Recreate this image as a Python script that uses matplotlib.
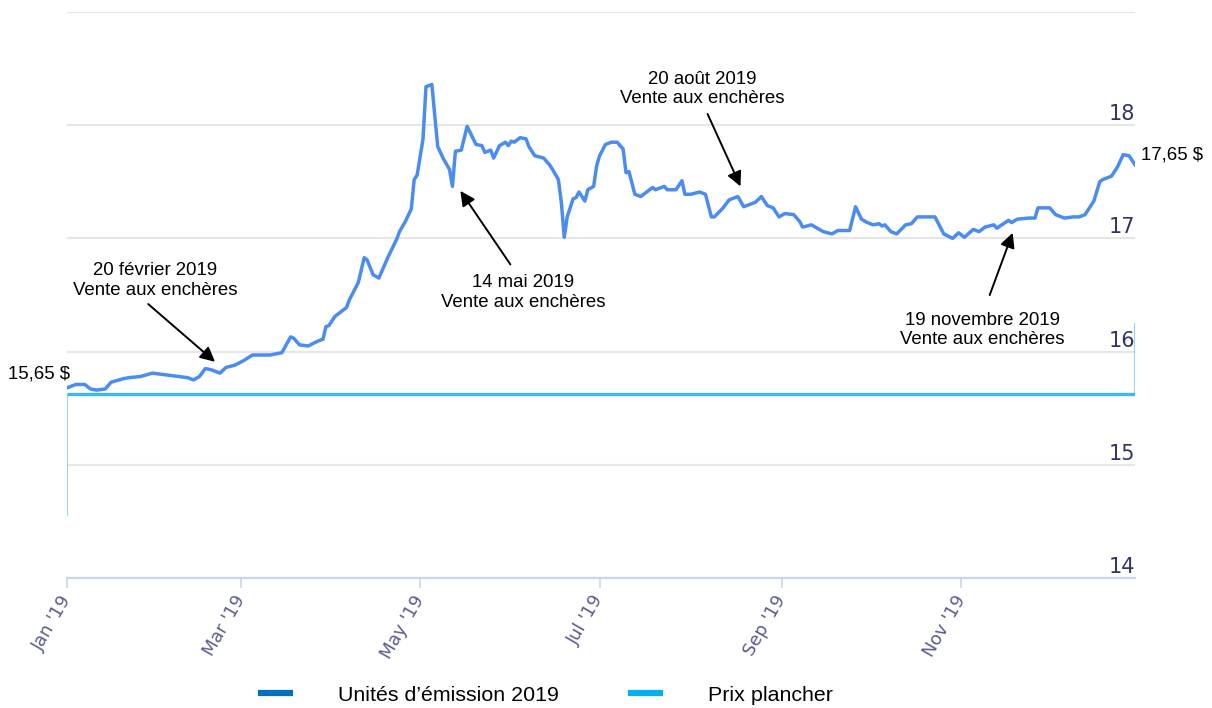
import matplotlib
matplotlib.use("Agg")
import matplotlib.pyplot as plt
import matplotlib.dates as mdates
from matplotlib.lines import Line2D
import pandas as pd

plt.rcParams["font.family"] = ["Liberation Sans", "DejaVu Sans"]

START = pd.Timestamp("2019-01-01")

# Unités d'émission 2019 : jour de l'année (0 = 1er janvier) et prix ($)
price_days = [
    0, 3, 6, 8, 10, 13, 15, 19, 21, 25, 29, 32, 35, 38, 41, 43, 45, 47, 49, 52,
    54, 57, 60, 63, 69, 73, 76, 77, 79, 82, 85, 87, 88, 89, 91, 95, 96, 99, 101, 102,
    104, 106, 109, 112, 113, 115, 117, 118, 119, 121, 122, 124, 126, 128, 130, 131, 132, 134, 136, 139,
    141, 142, 144, 145, 147, 149, 150, 151, 152, 154, 156, 157, 159, 162, 164, 165, 167, 168, 169, 170,
    172, 173, 174, 176, 177, 179, 180, 181, 183, 185, 187, 189, 190, 191, 193, 195, 197, 199, 200, 203,
    204, 207, 209, 210, 212, 215, 217, 219, 220, 223, 225, 228, 230, 232, 234, 236, 238, 240, 242, 244,
    247, 249, 250, 253, 255, 257, 260, 262, 266, 268, 270, 272, 274, 276, 277, 278, 280, 282, 285, 287,
    289, 295, 298, 301, 303, 305, 308, 310, 312, 315, 316, 320, 321, 323, 327, 329, 330, 334, 336, 339,
    342, 344, 346, 349, 351, 352, 355, 357, 359, 361, 363,
]
price_values = [
    15.68, 15.71, 15.71, 15.67, 15.66, 15.67, 15.73, 15.76, 15.77, 15.78, 15.81, 15.80, 15.79, 15.78, 15.77, 15.75, 15.78, 15.85, 15.84, 15.81,
    15.86, 15.88, 15.92, 15.97, 15.97, 15.99, 16.13, 16.12, 16.06, 16.05, 16.09, 16.11, 16.22, 16.23, 16.31, 16.39, 16.46, 16.61, 16.83, 16.81,
    16.68, 16.65, 16.83, 16.99, 17.06, 17.15, 17.26, 17.52, 17.56, 17.88, 18.34, 18.36, 17.81, 17.70, 17.61, 17.46, 17.77, 17.78, 17.99, 17.83,
    17.82, 17.76, 17.78, 17.71, 17.82, 17.85, 17.82, 17.86, 17.85, 17.89, 17.88, 17.81, 17.73, 17.71, 17.65, 17.61, 17.52, 17.32, 17.01, 17.19,
    17.35, 17.36, 17.41, 17.33, 17.43, 17.46, 17.64, 17.73, 17.83, 17.85, 17.85, 17.79, 17.58, 17.59, 17.39, 17.37, 17.41, 17.45, 17.43, 17.46,
    17.43, 17.43, 17.51, 17.39, 17.39, 17.41, 17.39, 17.19, 17.19, 17.27, 17.34, 17.37, 17.28, 17.30, 17.32, 17.37, 17.29, 17.27, 17.19, 17.22,
    17.21, 17.15, 17.10, 17.12, 17.09, 17.06, 17.04, 17.07, 17.07, 17.28, 17.17, 17.14, 17.12, 17.13, 17.11, 17.12, 17.06, 17.04, 17.12, 17.13,
    17.19, 17.19, 17.04, 17.00, 17.05, 17.01, 17.08, 17.06, 17.10, 17.12, 17.09, 17.16, 17.14, 17.17, 17.18, 17.18, 17.27, 17.27, 17.21, 17.18,
    17.19, 17.19, 17.21, 17.33, 17.50, 17.52, 17.55, 17.63, 17.74, 17.73, 17.65,
]

# Prix plancher
floor_days = [0, 0, 363, 363]
floor_values = [14.55, 15.63, 15.63, 16.25]

y_ticks = [14, 15, 16, 17, 18]
x_ticks = ["2019-01-01", "2019-03-01", "2019-05-01", "2019-07-01", "2019-09-01", "2019-11-01"]

# Ventes aux enchères : texte, flèche (jour, valeur)
auction_labels = [
    "20 février 2019\nVente aux enchères",
    "14 mai 2019\nVente aux enchères",
    "20 août 2019\nVente aux enchères",
    "19 novembre 2019\nVente aux enchères",
]
label_pos = [(30, 16.63), (155, 16.52), (216, 18.32), (311, 16.19)]
arrow_tail = [(27.6, 16.42), (150.7, 16.77), (217.7, 18.10), (313.6, 16.50)]
arrow_tip = [(50.3, 15.91), (133.7, 17.42), (228.9, 17.46), (321.4, 17.05)]

first_label = "15,65 $"
last_label = "17,65 $"

LINE_COLOR = "#4a8cf0"
FLOOR_COLOR = "#3db8ec"
GRID_COLOR = "#e6e6e6"
AXIS_COLOR = "#ccd6eb"
TICK_TEXT = "#33336b"
FS = 13.4


def day(d):
    return START + pd.Timedelta(days=d)


fig = plt.figure(figsize=(12.12, 7.08), dpi=100)
ax = fig.add_axes([0.0553, 0.1836, 0.8812, 0.7994])

dates = [day(d) for d in price_days]
fdates = [day(d) for d in floor_days]

# floor price: faint spikes at both ends, solid horizontal part
ax.plot(fdates[:2], floor_values[:2], color=FLOOR_COLOR, lw=1.4, alpha=0.6,
        solid_capstyle="butt")
ax.plot(fdates[2:], floor_values[2:], color=FLOOR_COLOR, lw=1.4, alpha=0.6,
        solid_capstyle="butt")
ax.plot(fdates[1:3], floor_values[1:3], color=FLOOR_COLOR, lw=2.4,
        solid_capstyle="butt", zorder=3)

ax.plot(dates, price_values, color=LINE_COLOR, lw=2.5, zorder=4,
        solid_joinstyle="round")

ax.set_xlim(day(0), day(363))
ax.set_ylim(14, 19)
ax.set_yticks(y_ticks + [19])
ax.tick_params(axis="y", length=0, labelleft=False)
ax.grid(axis="y", color=GRID_COLOR, lw=1.5)
ax.set_axisbelow(True)

for s in ["top", "right", "left"]:
    ax.spines[s].set_visible(False)
ax.spines["bottom"].set_color(AXIS_COLOR)
ax.spines["bottom"].set_linewidth(1.6)
ax.spines["bottom"].set_zorder(5)

ax.set_xticks([pd.Timestamp(t) for t in x_ticks])
ax.xaxis.set_major_formatter(mdates.DateFormatter("%b '%y"))
ax.tick_params(axis="x", length=7.5, width=1.2, color=AXIS_COLOR,
               labelsize=12.8, labelcolor="#5c5c8e", pad=6)
for lbl in ax.get_xticklabels():
    lbl.set_rotation(60)
    lbl.set_rotation_mode("anchor")
    lbl.set_ha("right")
    lbl.set_va("center")
    lbl.set_family("DejaVu Sans")

ytrans = ax.get_yaxis_transform()
for v in y_ticks:
    ax.text(1.0, v + 0.045, str(v), transform=ytrans, ha="right", va="baseline",
            fontsize=15, color=TICK_TEXT, family="DejaVu Sans")

for text, pos, tail, tip in zip(auction_labels, label_pos, arrow_tail, arrow_tip):
    ax.text(day(pos[0]), pos[1], text, ha="center", va="center", fontsize=FS,
            linespacing=1.2, zorder=6)
    ax.annotate("", xy=(day(tip[0]), tip[1]), xytext=(day(tail[0]), tail[1]),
                arrowprops=dict(arrowstyle="-|>", color="black", lw=1.4,
                                mutation_scale=22, shrinkA=0, shrinkB=0),
                zorder=6)

ax.text(day(1), 15.80, first_label, ha="right", va="center", fontsize=FS,
        clip_on=False)
ax.text(day(365), 17.74, last_label, ha="left", va="center", fontsize=FS,
        clip_on=False)

handles = [
    Line2D([], [], color="#0070c0", lw=4.5, solid_capstyle="butt"),
    Line2D([], [], color="#00b0f0", lw=4.5, solid_capstyle="butt"),
]
fig.legend(handles, ["Unités d’émission 2019", "Prix plancher"], loc="center",
           bbox_to_anchor=(0.450, 0.018), ncol=2, frameon=False, fontsize=15.4,
           handlelength=1.64, handletextpad=2.1, columnspacing=3.27)

fig.savefig("out.png", dpi=100)
